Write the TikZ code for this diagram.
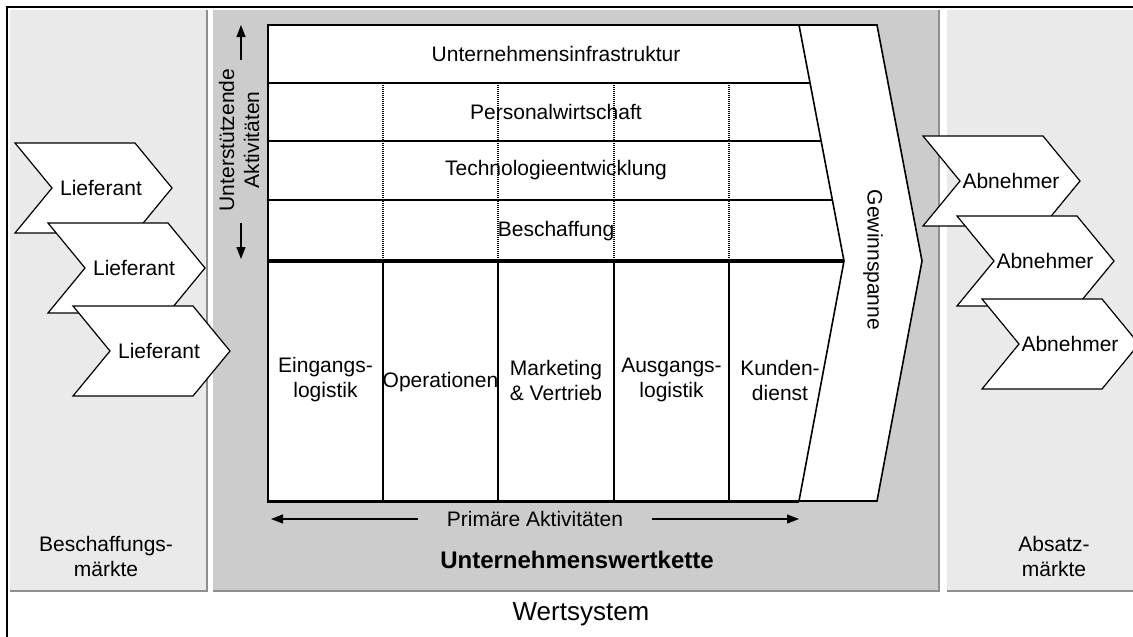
\documentclass[tikz,border=0pt]{standalone}
\usepackage{fontspec}
\setmainfont{Liberation Sans}
\usetikzlibrary{calc,arrows.meta}
\definecolor{panelLight}{HTML}{EAEAEA}
\definecolor{panelDark}{HTML}{CCCCCC}
\definecolor{panelEdge}{HTML}{8E8E8E}

\begin{document}
\begin{tikzpicture}[x=1pt,y=-1pt,
  lbl/.style={font=\fontsize{21}{25}\selectfont, align=center, inner sep=0pt},
  boldlbl/.style={font=\fontsize{24}{28}\selectfont\bfseries, inner sep=0pt},
  biglbl/.style={font=\fontsize{26}{30}\selectfont, inner sep=0pt},
  chevshape/.style={draw=black, fill=white, line width=1.2pt, line join=miter},
  thinrule/.style={line width=1.2pt},
  dotrule/.style={line width=1.1pt, dash pattern=on 1pt off 1pt},
  flow/.style={line width=1.2pt, -{Triangle[length=12pt,width=9pt]}},
  panelshadow/.style={draw=panelEdge, line width=1.2pt},
  chevron/.pic={\path[chevshape] (0,0) -- (120,0) -- (157,45) -- (120,90) -- (0,90) -- (37,45) -- cycle;}
]
\useasboundingbox (0,0) rectangle (1133,637);
\clip (0,0) rectangle (1133,637);
\fill[white] (0,0) rectangle (1133,637);

% outer frame of the value system
\draw[line width=2.5pt] (7,660) -- (7,7) -- (1160,7);

% market panels and the firm's value chain panel
\fill[panelLight] (10,10) rectangle (206,590);
\draw[panelshadow] (207,10) -- (207,591) -- (10,591);
\fill[panelDark] (213,10) rectangle (939,590);
\draw[panelshadow] (939,10) -- (939,591) -- (213,591);
\fill[panelLight] (947,10) rectangle (1150,590);
\draw[panelshadow] (947,591) -- (1150,591);

% suppliers
\pic at (15,143) {chevron};
\node[lbl] (lief1) at (101,188) {Lieferant};
\pic at (48,223) {chevron};
\node[lbl] (lief2) at (134,268) {Lieferant};
\pic at (73,306) {chevron};
\node[lbl] (lief3) at (159,351) {Lieferant};

% customers
\pic at (923,136) {chevron};
\node[lbl] (abn1) at (1011,181) {Abnehmer};
\pic at (957,216) {chevron};
\node[lbl] (abn2) at (1045,261) {Abnehmer};
\pic at (982,299) {chevron};
\node[lbl] (abn3) at (1070,344) {Abnehmer};

% value chain grid
\fill[white] (268,25) -- (799,25) -- (844,261) -- (799,501) -- (268,501) -- cycle;
\draw[thinrule] (268,83) -- (810.1,83);
\draw[thinrule] (268,141) -- (821.1,141);
\draw[thinrule] (268,200) -- (832.4,200);
\foreach \cx in {383,498,614,729} {
  \draw[dotrule] (\cx,83) -- (\cx,261);
  \draw[thinrule] (\cx,261) -- (\cx,501);
}
\draw[line width=1.8pt] (268,501) -- (268,25) -- (799,25);
\draw[line width=3.5pt] (268,261) -- (844,261);
\draw[line width=3pt] (266.5,501) -- (799,501);

% margin chevron
\draw[fill=white, line width=1.6pt, line join=miter]
  (799,25) -- (877,25) -- (922,261) -- (877,501) -- (799,501) -- (844,261) -- cycle;
\node[lbl, rotate=-90] (margin) at (873,260) {Gewinnspanne};

% support activities
\node[lbl] (infra) at (556,54) {Unternehmensinfrastruktur};
\node[lbl] (pers) at (556,112) {Personalwirtschaft};
\node[lbl] (tech) at (556,170.5) {Technologieentwicklung};
\node[lbl] (besch) at (556,231) {Beschaffung};

% primary activities
\node[lbl] (ein) at (325.5,380) {Eingangs-\\logistik};
\node[lbl] (ops) at (440.5,382) {Operationen};
\node[lbl] (mark) at (556,380) {Marketing\\\& Vertrieb};
\node[lbl] (aus) at (671.5,380) {Ausgangs-\\logistik};
\node[lbl] (kund) at (780,380) {Kunden-\\dienst};

% side label with arrows
\node[lbl, rotate=90] (support) at (239,140) {Unterstützende\\Aktivitäten};
\coordinate (supUpA) at (241,60);
\coordinate (supUpB) at (241,25);
\coordinate (supDnA) at (241,223);
\coordinate (supDnB) at (241,259);
\draw[flow] (supUpA) -- (supUpB);
\draw[flow] (supDnA) -- (supDnB);

% bottom label with arrows
\node[lbl] (primary) at (535,519) {Primäre Aktivitäten};
\coordinate (priLA) at (418,519);
\coordinate (priLB) at (271,519);
\coordinate (priRA) at (652,519);
\coordinate (priRB) at (799,519);
\draw[flow] (priLA) -- (priLB);
\draw[flow] (priRA) -- (priRB);

% panel captions
\node[boldlbl] (chain) at (577,560) {Unternehmenswertkette};
\node[lbl] (beschm) at (106,556) {Beschaffungs-\\märkte};
\node[lbl] (absm) at (1054,556) {Absatz-\\märkte};
\node[biglbl] (system) at (581,614) {Wertsystem};
\end{tikzpicture}
\end{document}
